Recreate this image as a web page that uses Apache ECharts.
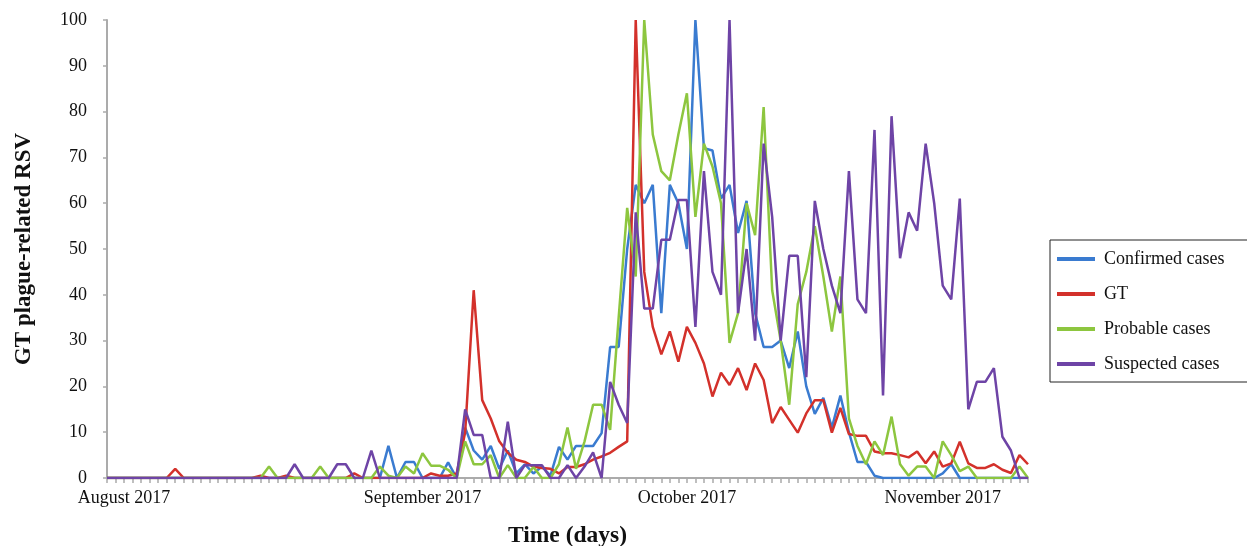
<!DOCTYPE html>
<html>
<head>
<meta charset="utf-8">
<script src="https://cdn.jsdelivr.net/npm/echarts@6/dist/echarts.min.js"></script>
<style>html,body{margin:0;padding:0;background:#fff}#c{width:1247px;height:546px}</style>
</head>
<body>
<div id="c"></div>
<script>
// Daily values (one per day of the plotted period)
const confirmed = [
 0,0,0,0,0,0,0,0,0,0,
 0,0,0,0,0,0,0,0,0,0,
 0,0,0,0,0,0,0,0,0,0,
 0,0,0,7,0,3.5,3.5,0,0,0,
 3.4,0,11,6,4,7,2,6,1,3,
 1,2.5,0.5,6.8,4,7,7,7,9.8,28.6,
 28.6,50,64,60,64,36,64,60,50,100,
 72,71.5,61,64,53.5,60.5,36,28.6,28.6,30,
 24,32,20,14,17.5,11,18,10,3.5,3.5,
 0.5,0,0,0,0,0,0,0,1,3,
 0,0,0,0,0,0,0,0,0];
const gt = [
 0,0,0,0,0,0,0,0,2,0,
 0,0,0,0,0,0,0,0,0.5,0,
 0,0.5,0,0,0,0,0,0,0,1,
 0,0,0,0,0,0,0,0,1,0.5,
 0.5,1,10,41,17,13,8,5.5,4,3.5,
 2.5,2.2,2,1,2.4,2.4,3,4,4.7,5.5,
 6.8,8,100,45,33,27,32,25.4,33,29.5,
 25,17.8,23,20.3,24,19.2,25,21.4,12,15.5,
 12.7,9.9,14.1,17,17,9.9,15.3,9.6,9.2,9.2,
 5.8,5.4,5.4,5,4.5,5.8,3.2,5.8,2.5,3.2,
 7.9,3.2,2.2,2.2,3,1.8,1.1,5,3];
const probable = [
 0,0,0,0,0,0,0,0,0,0,
 0,0,0,0,0,0,0,0,0,2.5,
 0,0,0,0,0,2.5,0,0,0,0,
 0,0,2.5,0.5,0,2.5,1,5.4,2.7,2.7,
 1.8,0,8,3,3,5,0,2.8,0,0,
 2.4,0,0,3,11,2,8,16,16,10.5,
 35,59,44,100,75,67,65,75,84,57,
 73,68,60,29.5,36,60,53,81,41,30,
 16,38,45,55,44,32,44,13,7,3,
 8,5,13.4,3,0.5,2.5,2.5,0,8,5,
 1.5,2.5,0,0,0,0,0,2.5,0];
const suspected = [
 0,0,0,0,0,0,0,0,0,0,
 0,0,0,0,0,0,0,0,0,0,
 0,0,3,0,0,0,0,3,3,0,
 0,6,0,0,0,0,0,0,0,0,
 0,0,15,9.4,9.4,0,0,12.3,0,2.8,
 2.8,2.8,0,0,2.8,0,2.5,5.6,0,21,
 16,12,58,37,37,52,52,60.7,60.7,33,
 67,45,40,100,36,50,30,73,57,30,
 48.5,48.5,22,60.5,50,42,36,67,39,36,
 76,18,79,48,58,54,73,60,42,39,
 61,15,21,21,24,9,6,0,0];

const seriesNames = ['Confirmed cases', 'GT', 'Probable cases', 'Suspected cases'];
const seriesColors = ['#3a7bd0', '#d3312b', '#8dc63f', '#6e44a6'];
const seriesData = [confirmed, gt, probable, suspected];

// Month tick labels and the day index under which each is written
const monthLabels = ['August 2017', 'September 2017', 'October 2017', 'November 2017'];
const monthLabelDay = [2, 37, 68, 98];

const days = confirmed.map((_, i) => String(i));

const serif = 'Liberation Serif, Times New Roman, serif';
const axisGrey = '#ababab';

const chart = echarts.init(document.getElementById('c'), null, {renderer: 'canvas'});
chart.setOption({
  animation: false,
  backgroundColor: '#fff',
  grid: {left: 107, right: 219, top: 20, bottom: 68, containLabel: false, outerBoundsMode: 'none'},
  legend: {
    orient: 'vertical',
    left: 1050, top: 240,
    icon: 'rect',
    itemWidth: 38, itemHeight: 4,
    itemGap: 17,
    padding: [10, 60, 9, 7],
    borderColor: '#222', borderWidth: 1,
    textStyle: {fontFamily: serif, fontSize: 18, color: '#111', padding: [0, 0, 0, 4]},
    data: seriesNames
  },
  xAxis: {
    type: 'category',
    data: days,
    boundaryGap: false,
    axisLine: {lineStyle: {color: axisGrey, width: 2}},
    axisTick: {show: true, interval: 0, length: 5, lineStyle: {color: axisGrey, width: 1.5}},
    axisLabel: {
      interval: (idx) => monthLabelDay.indexOf(idx) >= 0,
      formatter: (val, idx) => { const k = monthLabelDay.indexOf(idx); return k >= 0 ? monthLabels[k] : ''; },
      fontFamily: serif, fontSize: 18, color: '#111', margin: 11
    },
    splitLine: {show: false},
    name: 'Time (days)',
    nameLocation: 'middle',
    nameGap: 46,
    nameTextStyle: {fontFamily: serif, fontSize: 23.5, fontWeight: 'bold', color: '#111'}
  },
  yAxis: {
    type: 'value',
    min: 0, max: 100, interval: 10,
    axisLine: {show: true, lineStyle: {color: axisGrey, width: 2}},
    axisTick: {show: true, length: 4, lineStyle: {color: axisGrey, width: 1.5}},
    axisLabel: {fontFamily: serif, fontSize: 18, color: '#111', margin: 20},
    splitLine: {show: false},
    name: 'GT plague-related RSV',
    nameLocation: 'middle',
    nameGap: 71,
    nameTextStyle: {fontFamily: serif, fontSize: 23, fontWeight: 'bold', color: '#111'}
  },
  series: seriesNames.map((name, k) => ({
    name: name,
    type: 'line',
    data: seriesData[k],
    symbol: 'none',
    smooth: false,
    lineStyle: {color: seriesColors[k], width: 2.5},
    itemStyle: {color: seriesColors[k]},
    z: 2 + k
  }))
});
</script>
</body>
</html>
